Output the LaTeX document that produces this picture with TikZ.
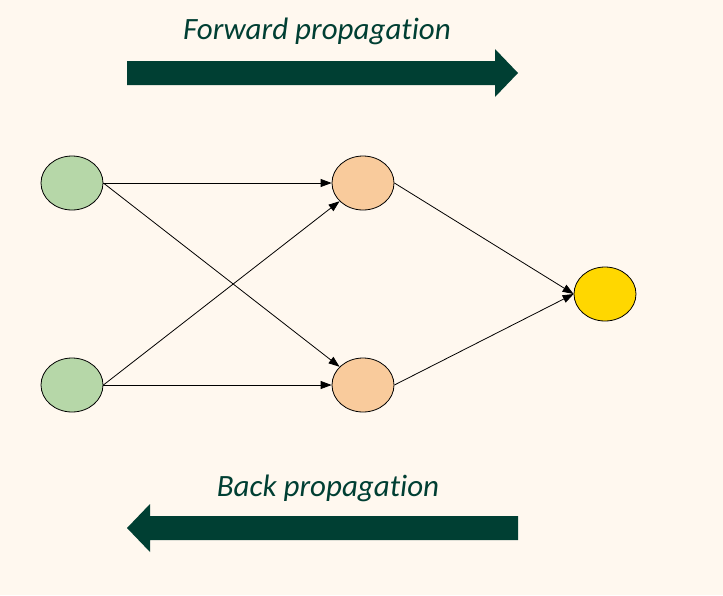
\documentclass[tikz,border=0pt]{standalone}
\usepackage{fontspec}
\setmainfont[Ligatures=NoCommon]{Carlito}
\usetikzlibrary{arrows.meta,shapes.geometric}
\definecolor{bg}{HTML}{FFF8EF}
\definecolor{dkgreen}{HTML}{003F33}
\definecolor{nodegreen}{HTML}{B6D7A8}
\definecolor{nodeorange}{HTML}{F9CB9C}
\definecolor{nodeyellow}{HTML}{FFD700}
\tikzset{
  neuron/.style={ellipse, draw=black, line width=0.8pt, minimum width=62pt, minimum height=54pt, inner sep=0pt},
  conn/.style={draw=black, line width=0.8pt, -{Triangle[length=11pt,width=8pt]}},
  bigarrow/.style={fill=dkgreen, draw=none},
  lbl/.style={text=dkgreen, font=\itshape\fontsize{31}{36}\selectfont}
}
\begin{document}
\begin{tikzpicture}[x=1pt,y=-1pt]
\fill[bg] (0,0) rectangle (723,595);
\useasboundingbox (0,0) rectangle (723,595);
\node[neuron, fill=nodegreen] (g1) at (72,183) {};
\node[neuron, fill=nodegreen] (g2) at (72,385) {};
\node[neuron, fill=nodeorange] (o1) at (363,183) {};
\node[neuron, fill=nodeorange] (o2) at (363,385) {};
\node[neuron, fill=nodeyellow] (y) at (605,294) {};
\draw[conn] (g1.east) -- (o1.west);
\draw[conn] (g1.east) -- (o2);
\draw[conn] (g2.east) -- (o1);
\draw[conn] (g2.east) -- (o2.west);
\draw[conn] (o1.east) -- (y.west);
\draw[conn] (o2.east) -- (y.west);
\node[lbl] (fwd) at (317,31) {Forward propagation};
\node[lbl] (bck) at (328,488) {Back propagation};
\fill[bigarrow] (127,61) -- (495,61) -- (495,49) -- (518,73) -- (495,97) -- (495,85) -- (127,85) -- cycle;
\fill[bigarrow] (518,516) -- (150,516) -- (150,504) -- (127,528) -- (150,552) -- (150,540) -- (518,540) -- cycle;
\end{tikzpicture}
\end{document}
